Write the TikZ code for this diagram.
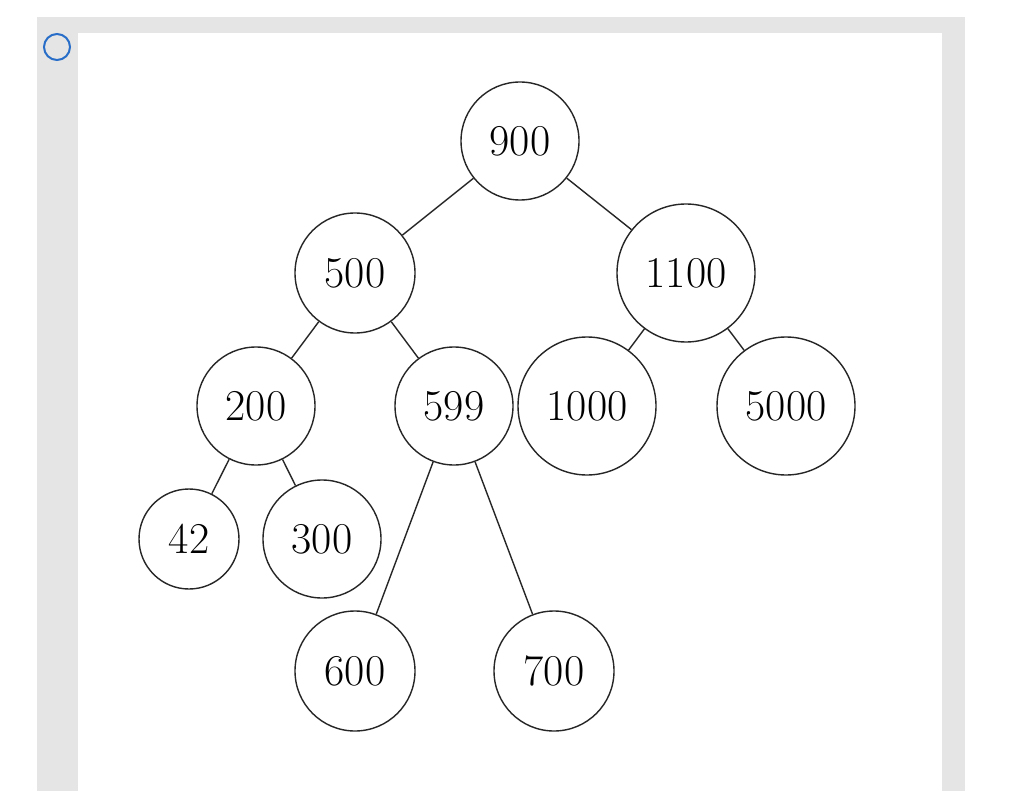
\documentclass[tikz,border=0pt]{standalone}
\begin{document}
\begin{tikzpicture}[x=1pt,y=-1pt,
  nd/.style={draw=black!85,line width=1.4pt,circle,inner sep=0pt,font=\fontsize{44}{50}\selectfont},
  ed/.style={draw=black!85,line width=1.4pt}]
\useasboundingbox (0,0) rectangle (1024,791);
\fill[gray!20] (37,17) rectangle (965,791);
\fill[white] (78,33) rectangle (942,791);
\draw[line width=2pt,draw={rgb,255:red,40;green,110;blue,200}] (57,47) circle (13);
\node[nd,minimum size=118] (n900) at (520,141) {900};
\node[nd,minimum size=120] (n500) at (355,273) {500};
\node[nd,minimum size=138] (n1100) at (686,273) {1100};
\node[nd,minimum size=118] (n200) at (256,406) {200};
\node[nd,minimum size=118] (n599) at (454,406) {599};
\node[nd,minimum size=138] (n1000) at (587,406) {1000};
\node[nd,minimum size=138] (n5000) at (786,406) {5000};
\node[nd,minimum size=100] (n42) at (189,539) {42};
\node[nd,minimum size=118] (n300) at (322,539) {300};
\node[nd,minimum size=120] (n600) at (355,671) {600};
\node[nd,minimum size=120] (n700) at (554,671) {700};
\draw[ed] (n900)--(n500); \draw[ed] (n900)--(n1100);
\draw[ed] (n500)--(n200); \draw[ed] (n500)--(n599);
\draw[ed] (n1100)--(n1000); \draw[ed] (n1100)--(n5000);
\draw[ed] (n200)--(n42); \draw[ed] (n200)--(n300);
\draw[ed] (n599)--(n600); \draw[ed] (n599)--(n700);
\end{tikzpicture}
\end{document}
